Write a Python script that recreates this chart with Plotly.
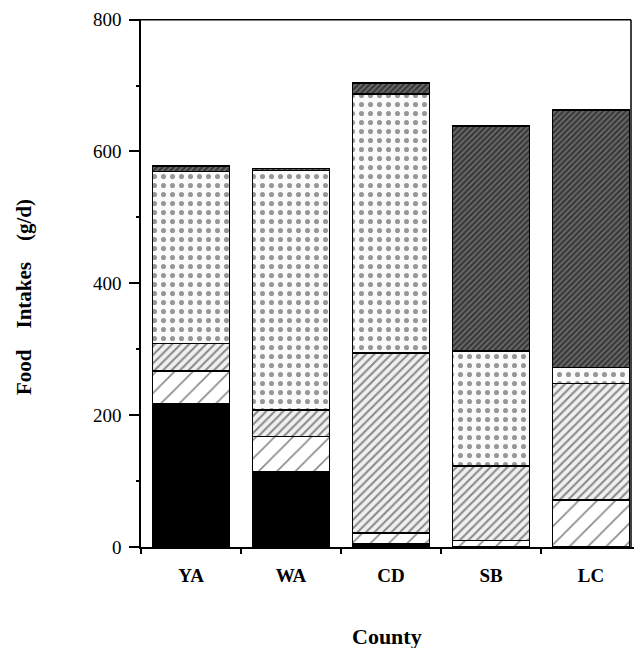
import plotly.graph_objects as go

counties = ["YA", "WA", "CD", "SB", "LC"]

# stacked food-group intakes (g/d), bottom to top
group_a = [218, 114, 5, 0, 0]        # solid black
group_b = [49, 54, 16, 10, 71]       # wide diagonal hatch
group_c = [42, 40, 273, 113, 177]    # fine grey diagonal hatch
group_d = [261, 363, 393, 174, 24]   # dotted/dashed pattern
group_e = [8, 3, 17, 342, 391]       # dense dark diagonal hatch

y_ticks = [0, 200, 400, 600, 800]
x_labels = ["<b>" + c + "</b>" for c in counties]

serif = "Liberation Serif, Times New Roman, serif"
NB = "\u00a0"

fig = go.Figure()

styles = [
    ("Group A", group_a, dict(color="black", pattern=dict(shape=""))),
    ("Group B", group_b, dict(color="white", pattern=dict(shape="/", size=13, solidity=0.12,
                                                           fgcolor="#111", bgcolor="white", fillmode="overlay"))),
    ("Group C", group_c, dict(color="white", pattern=dict(shape="/", size=6, solidity=0.35,
                                                           fgcolor="#222", bgcolor="#f0f0f0", fillmode="overlay"))),
    ("Group D", group_d, dict(color="white", pattern=dict(shape=".", size=9, solidity=0.25,
                                                           fgcolor="#333", bgcolor="#fafafa", fillmode="overlay"))),
    ("Group E", group_e, dict(color="white", pattern=dict(shape="/", size=4, solidity=0.6,
                                                           fgcolor="#000", bgcolor="#707070", fillmode="overlay"))),
]

for name, vals, mk in styles:
    mk = dict(mk)
    mk["line"] = dict(color="black", width=1.5)
    fig.add_trace(go.Bar(x=counties, y=vals, name=name, marker=mk))

W, H = 634, 640
L, R, T, B = 133, 5, 11, 101
pw, ph = W - L - R, H - T - B

Y_MAX = 800
X_RIGHT = 4.40

fig.update_layout(
    barmode="stack",
    bargap=0.23,
    width=W,
    height=H,
    margin=dict(l=L, r=R, t=T, b=B, autoexpand=False),
    plot_bgcolor="white",
    paper_bgcolor="white",
    showlegend=False,
    font=dict(family=serif, color="black"),
)

fig.update_xaxes(
    type="category",
    range=[-0.5, 4.46],
    tickmode="array", tickvals=counties, ticktext=x_labels,
    automargin=False,
    showline=True, linecolor="black", linewidth=1.5, mirror=False,
    ticks="outside", tickson="boundaries", ticklen=5, tickcolor="black", tickwidth=1.5,
    tickfont=dict(family=serif, size=19, color="black"),
    ticklabelstandoff=10,
    showgrid=False,
)

fig.update_yaxes(
    range=[0, 801],
    tickvals=y_ticks,
    automargin=False,
    showline=True, linecolor="black", linewidth=1.5, mirror=False,
    ticks="outside", ticklen=10, tickcolor="black", tickwidth=1.5,
    minor=dict(tickvals=[100, 300, 500, 700], ticks="outside", ticklen=3, tickcolor="black",
               tickwidth=1.5, showgrid=False),
    tickfont=dict(family=serif, size=19, color="black"),
    ticklabelstandoff=4,
    ticklabeloverflow="allow",
    showgrid=False, zeroline=False,
)

# top and right frame lines
fig.add_shape(type="line", xref="x", yref="y", x0=-0.5, x1=X_RIGHT, y0=Y_MAX, y1=Y_MAX,
              line=dict(color="black", width=1.5), layer="above")
fig.add_shape(type="line", xref="x", yref="y", x0=X_RIGHT, x1=X_RIGHT, y0=0, y1=Y_MAX,
              line=dict(color="black", width=1.5), layer="above")

# axis titles placed as annotations (positions in paper fractions)
fig.add_annotation(
    text="<b>Food" + NB * 4 + "Intakes" + NB * 4 + "(g/d)</b>",
    xref="paper", yref="paper",
    x=(16 - L) / pw, y=1 - (289 - T) / ph,
    xanchor="center", yanchor="middle", textangle=-90, showarrow=False,
    font=dict(family=serif, size=21, color="black"),
)
fig.add_annotation(
    text="<b>County</b>",
    xref="paper", yref="paper",
    x=(379 - L) / pw, y=1 - (628 - T) / ph,
    xanchor="center", yanchor="middle", showarrow=False,
    font=dict(family=serif, size=22, color="black"),
)

fig.write_html("out.html")
